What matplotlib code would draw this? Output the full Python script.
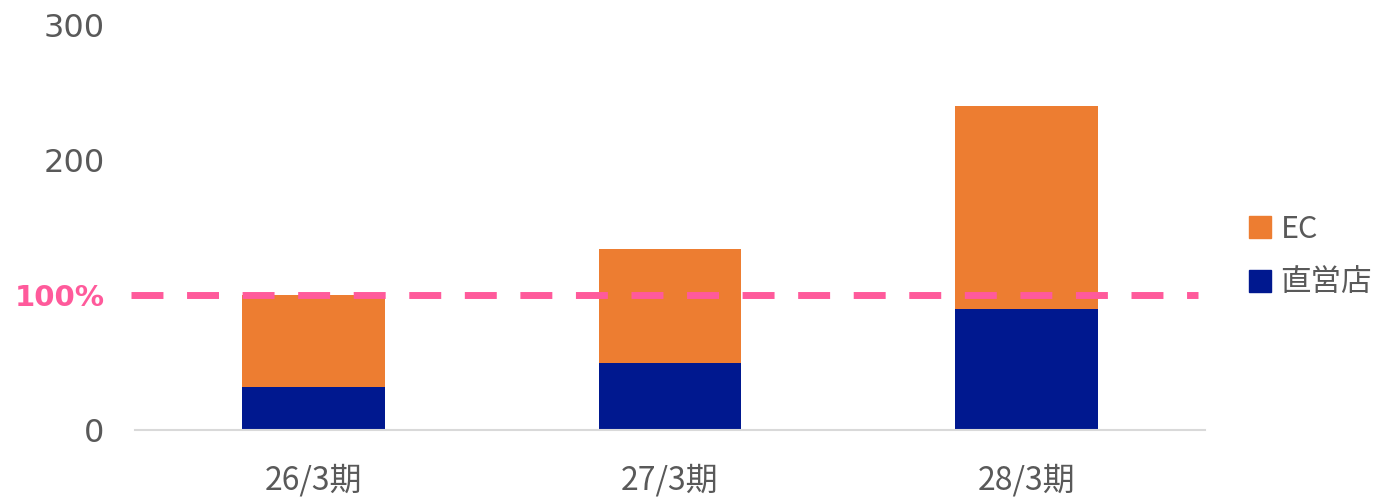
import matplotlib
matplotlib.use("Agg")
from matplotlib import pyplot as plt
from matplotlib.patches import Patch

plt.rcParams["font.family"] = ["DejaVu Sans", "Noto Sans CJK JP"]

# Sales mix per fiscal period (index, 26/3期 total = 100)
periods = ["26/3期", "27/3期", "28/3期"]
store = [32, 50, 90]
ec = [68, 84, 150]
target = 100
yticks = [0, 100, 200, 300]
ytick_labels = ["0", "100%", "200", "300"]

gray = "#595959"
orange = "#ED7D31"
navy = "#00188F"
pink = "#FF5A9B"

fig = plt.figure(figsize=(13.94, 4.97), dpi=100)
ax = fig.add_axes([135 / 1394, 67 / 497, 1070 / 1394, 405 / 497])

x = range(len(periods))
ax.bar(x, store, width=0.4, color=navy, label="直営店")
ax.bar(x, ec, width=0.4, bottom=store, color=orange, label="EC")

ax.plot([-0.51, 2.48], [target, target], color=pink, lw=5.0,
        linestyle=(0, (4.6, 3.4)), solid_capstyle="butt", clip_on=False, zorder=5)

ax.set_xlim(-0.5, 2.5)
ax.set_ylim(0, 300)
ax.set_xticks(list(x))
ax.set_xticklabels(periods, family=["Noto Sans CJK JP"], fontsize=23, color=gray)
ax.set_yticks(yticks)
ax.set_yticklabels(ytick_labels, fontsize=23, color=gray)
for lab in ax.get_yticklabels():
    if lab.get_text() == "100%":
        lab.set_color(pink)
        lab.set_fontweight("bold")
        lab.set_fontsize(21)
ax.tick_params(axis="y", length=0, pad=22)
ax.tick_params(axis="x", length=0, pad=24)

for side in ["top", "right", "left"]:
    ax.spines[side].set_visible(False)
ax.spines["bottom"].set_color("#D9D9D9")
ax.spines["bottom"].set_linewidth(1.5)

handles = [Patch(color=orange, label="EC"), Patch(color=navy, label="直営店")]
leg = fig.legend(handles=handles, loc="center left", bbox_to_anchor=(1221 / 1394, 1 - 256 / 497),
                 frameon=False, handlelength=0.75, handleheight=0.75,
                 handletextpad=0.3, labelspacing=0.75,
                 prop={"family": ["Noto Sans CJK JP"], "size": 22})
for t in leg.get_texts():
    t.set_color(gray)

fig.savefig("out.png", dpi=100)
